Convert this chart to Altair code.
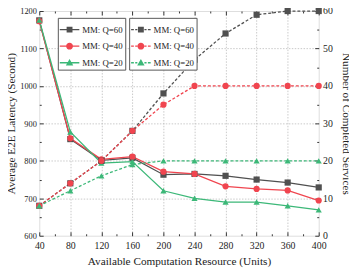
import altair as alt
import pandas as pd

# ---------------- data ----------------
resources = [40, 80, 120, 160, 200, 240, 280, 320, 360, 400]
series = ["MM: Q=60", "MM: Q=40", "MM: Q=20"]
latency_q60 = [1175, 858, 801, 808, 763, 765, 760, 750, 742, 729]
latency_q40 = [1173, 860, 804, 811, 771, 765, 732, 725, 721, 694]
latency_q20 = [1176, 877, 794, 798, 720, 700, 690, 690, 680, 669]
completed_q60 = [8, 14, 20, 28, 38, 47, 54, 59, 60, 60]
completed_q40 = [8, 14, 20, 28, 35, 40, 40, 40, 40, 40]
completed_q20 = [8, 12, 16, 19, 20, 20, 20, 20, 20, 20]

x_major = [40, 80, 120, 160, 200, 240, 280, 320, 360, 400]
x_minor = [60, 100, 140, 180, 220, 260, 300, 340, 380]
x_grid = [80, 120, 160, 200, 240, 280, 320, 360]
lat_major = [600, 700, 800, 900, 1000, 1100, 1200]
lat_minor = [650, 750, 850, 950, 1050, 1150]
lat_grid = [700, 800, 900, 1000, 1100]
cnt_major = [0, 10, 20, 30, 40, 50, 60]
cnt_minor = [5, 15, 25, 35, 45, 55]

colors = ["#505050", "#f0454f", "#3cb878"]
shapes = ["square", "circle", "triangle-up"]

lat_rows, cnt_rows = [], []
for s, lv, cv in zip(series, [latency_q60, latency_q40, latency_q20],
                     [completed_q60, completed_q40, completed_q20]):
    for r, a, b in zip(resources, lv, cv):
        lat_rows.append({"res": r, "series": s, "latency": a})
        cnt_rows.append({"res": r, "series": s, "count": b})
lat_df = pd.DataFrame(lat_rows)
cnt_df = pd.DataFrame(cnt_rows)

W, H = 286, 230
FONT = "Liberation Serif"
TXT = "#222222"
AX = "#333333"

# legend glyphs (line + marker), unit coordinates
line_solid = "M-1,-0.07H1V0.07H-1Z"
line_dash = ("M-1,-0.07H-0.72V0.07H-1Z M-0.58,-0.07H-0.36V0.07H-0.58Z "
             "M0.36,-0.07H0.58V0.07H0.36Z M0.72,-0.07H1V0.07H0.72Z")
sq = "M-0.3,-0.3H0.3V0.3H-0.3Z"
ci = "M0.35,0A0.35,0.35 0 1,1 -0.35,0A0.35,0.35 0 1,1 0.35,0Z"
tr = "M0,-0.38L0.38,0.28L-0.38,0.28Z"
leg_solid = [line_solid + " " + m for m in (sq, ci, tr)]
leg_dash = [line_dash + " " + m for m in (sq, ci, tr)]

xs = alt.Scale(domain=[40, 400], nice=False, zero=False)
lat_scale = alt.Scale(domain=[600, 1200], nice=False, zero=False)
cnt_scale = alt.Scale(domain=[0, 60], nice=False, zero=False)
col_scale = alt.Scale(domain=series, range=colors)
shp_scale = alt.Scale(domain=series, range=shapes)


def tick_axis(orient, values, size):
    return alt.Axis(orient=orient, values=values, tickSize=alt.ExprRef(str(-size)),
                    labels=False, domain=False, grid=False, title=None, ticks=True,
                    tickColor=AX, tickWidth=1)


def grid_axis(orient, values):
    return alt.Axis(orient=orient, values=values, labels=False, ticks=False,
                    domain=False, grid=True, title=None, gridColor="#bbbbbb",
                    gridDash=[1.5, 1.5], gridWidth=0.8)


x_label_axis = alt.Axis(orient="bottom", values=x_major, ticks=False, domain=False,
                        grid=False, title="Available Computation Resource (Units)",
                        format="d",
                        labelFont=FONT, labelFontSize=10, labelColor=TXT, labelPadding=5,
                        titleFont=FONT, titleFontSize=11.5, titleFontWeight="normal",
                        titleColor=TXT, titlePadding=5, labelFlush=False)
lat_label_axis = alt.Axis(orient="left", values=lat_major, ticks=False, domain=False,
                          grid=False, title="Average E2E Latency (Second)",
                          format="d",
                          labelFont=FONT, labelFontSize=8.5, labelColor=TXT, labelPadding=3,
                          titleFont=FONT, titleFontSize=11.5, titleFontWeight="normal",
                          titleColor=TXT, titlePadding=3, labelFlush=False)
cnt_label_axis = alt.Axis(orient="right", values=cnt_major, ticks=False, domain=False,
                          grid=False, title="Number of Completed Services",
                          format="d",
                          labelFont=FONT, labelFontSize=10, labelColor=TXT, labelPadding=4,
                          titleFont=FONT, titleFontSize=11.5, titleFontWeight="normal",
                          titleColor=TXT, titlePadding=8, labelFlush=False)

lat_base = alt.Chart(lat_df)
cnt_base = alt.Chart(cnt_df)
no_leg_color = alt.Color("series:N", scale=col_scale, legend=None)
no_leg_shape = alt.Shape("series:N", scale=shp_scale, legend=None)

l1 = lat_base.mark_line(strokeWidth=1.3).encode(
    x=alt.X("res:Q", scale=xs, axis=x_label_axis),
    y=alt.Y("latency:Q", scale=lat_scale, axis=lat_label_axis),
    color=no_leg_color,
    detail="series:N",
)
l2 = lat_base.mark_point(filled=True, size=40, opacity=1).encode(
    x=alt.X("res:Q", scale=xs, axis=tick_axis("bottom", x_major, 4)),
    y=alt.Y("latency:Q", scale=lat_scale, axis=tick_axis("left", lat_major, 4)),
    color=no_leg_color,
    shape=no_leg_shape,
)
l3 = cnt_base.mark_line(strokeWidth=1.3, strokeDash=[3, 2]).encode(
    x=alt.X("res:Q", scale=xs, axis=tick_axis("bottom", x_minor, 2)),
    y=alt.Y("count:Q", scale=cnt_scale, axis=cnt_label_axis),
    color=no_leg_color,
    detail="series:N",
)
l4 = cnt_base.mark_point(filled=True, size=40, opacity=1).encode(
    x=alt.X("res:Q", scale=xs, axis=tick_axis("top", x_major, 4)),
    y=alt.Y("count:Q", scale=cnt_scale, axis=tick_axis("right", cnt_major, 4)),
    color=no_leg_color,
    shape=no_leg_shape,
)
l5 = lat_base.mark_point(opacity=0).encode(
    x=alt.X("res:Q", scale=xs, axis=tick_axis("top", x_minor, 2)),
    y=alt.Y("latency:Q", scale=lat_scale, axis=tick_axis("left", lat_minor, 2)),
)
l6 = cnt_base.mark_point(opacity=0).encode(
    x=alt.X("res:Q", scale=xs, axis=grid_axis("bottom", x_grid)),
    y=alt.Y("count:Q", scale=cnt_scale, axis=tick_axis("right", cnt_minor, 2)),
)
l7 = lat_base.mark_point(opacity=0).encode(
    x=alt.X("res:Q", scale=xs, axis=None),
    y=alt.Y("latency:Q", scale=lat_scale, axis=grid_axis("left", lat_grid)),
)


def make_legend(x_off):
    return alt.Legend(
        orient="none", legendX=x_off, legendY=7, title=None,
        labelFont=FONT, labelFontSize=9, labelColor=TXT, labelOffset=3,
        symbolSize=400, symbolStrokeWidth=0, rowPadding=2, padding=2,
        strokeColor="#555555", fillColor="white", labelLimit=200)


def legend_layer(df, shape_range, x_off):
    return alt.Chart(df).mark_point(filled=True, size=400, opacity=1, strokeWidth=0).encode(
        x=alt.value(-2000),
        y=alt.value(-2000),
        color=alt.Color("series:N", scale=col_scale, legend=make_legend(x_off)),
        shape=alt.Shape("series:N", scale=alt.Scale(domain=series, range=shape_range),
                        legend=make_legend(x_off)),
    )


l8 = legend_layer(lat_df[lat_df.res == 40], leg_solid, 19)
l9 = legend_layer(cnt_df[cnt_df.res == 40], leg_dash, 92)

chart = alt.layer(l7, l6, l5, l1, l3, l2, l4, l8, l9).resolve_scale(
    y="independent", color="independent", shape="independent"
).resolve_axis(
    x="independent", y="independent"
).resolve_legend(
    color="independent", shape="independent"
).properties(
    width=W, height=H,
    autosize=alt.AutoSizeParams(type="none"),
    padding={"left": 32, "top": 0, "right": 31, "bottom": 33},
).configure_view(
    stroke=AX, strokeWidth=1.5
).configure(background="white")

chart.save("out.html", embed_options={"renderer": "svg", "actions": False})
